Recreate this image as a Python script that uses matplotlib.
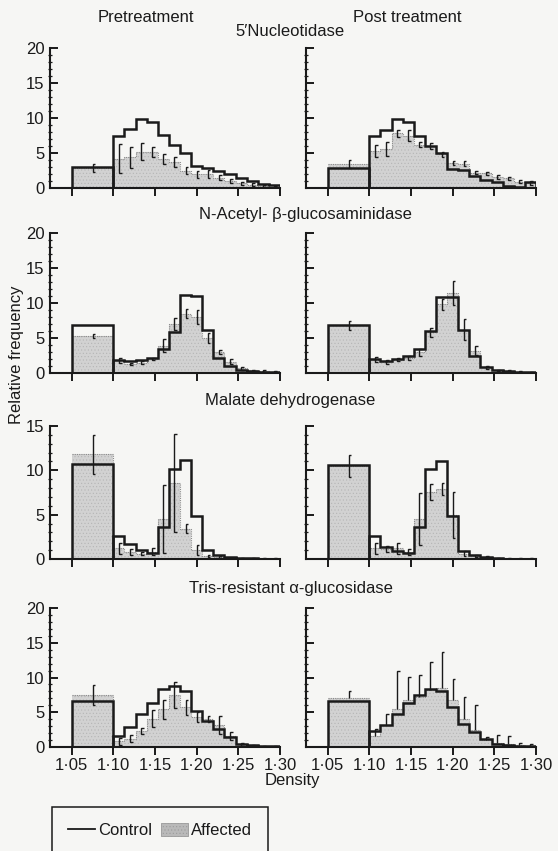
import numpy as np
import matplotlib
matplotlib.use("Agg")
import matplotlib.pyplot as plt
from matplotlib.lines import Line2D
from matplotlib.patches import Patch
from matplotlib.ticker import MultipleLocator, FixedLocator

plt.rcParams['font.family'] = ['Liberation Sans', 'DejaVu Sans']
plt.rcParams['hatch.color'] = '#a9a9a9'
plt.rcParams['hatch.linewidth'] = 0.4

# ---------------- data ----------------
# first bin: 1.05-1.10, then 15 equal bins from 1.10 to 1.30
wide_bin = [1.05, 1.10]
fine_lo, fine_hi, n_fine = 1.10, 1.30, 15

enzymes = ["5\u2032Nucleotidase", "N-Acetyl- \u03b2-glucosaminidase",
           "Malate dehydrogenase", "Tris-resistant \u03b1-glucosidase"]
conditions = ["Pretreatment", "Post treatment"]
y_limits = [20, 20, 15, 20]
x_ticks = [1.05, 1.10, 1.15, 1.20, 1.25, 1.30]
x_tick_labels = ["1\u00b705", "1\u00b710", "1\u00b715", "1\u00b720", "1\u00b725", "1\u00b730"]

nuc_pre_control = [3.0, 7.5, 8.5, 9.8, 9.5, 7.6, 6.1, 5.0, 3.1, 2.9, 2.5, 2.0, 1.4, 1.0, 0.6, 0.4]
nuc_pre_affected = [2.9, 4.2, 4.4, 5.2, 5.1, 4.2, 3.7, 2.5, 2.0, 2.0, 1.5, 1.0, 0.7, 0.5, 0.3, 0.2]
nuc_pre_sd = [0.6, 2.1, 1.5, 1.2, 0.7, 0.7, 0.7, 0.55, 0.5, 0.6, 0.4, 0.3, 0.2, 0.2, 0.1, 0.1]

nuc_post_control = [2.8, 7.5, 8.3, 9.8, 9.4, 7.5, 6.0, 5.0, 2.7, 2.6, 1.7, 1.2, 0.8, 0.3, 0.2, 0.8]
nuc_post_affected = [3.4, 5.3, 5.6, 7.8, 7.5, 6.2, 6.0, 4.8, 3.6, 3.5, 2.2, 2.1, 1.6, 1.4, 0.9, 0.7]
nuc_post_sd = [0.6, 0.8, 1.0, 0.5, 0.8, 0.4, 0.4, 0.3, 0.3, 0.3, 0.25, 0.25, 0.25, 0.2, 0.2, 0.25]

nag_pre_control = [6.85, 1.85, 1.65, 1.85, 2.1, 3.4, 5.9, 11.2, 11.0, 6.1, 2.1, 1.0, 0.4, 0.3, 0.2, 0.15]
nag_pre_affected = [5.3, 1.8, 1.3, 1.5, 2.0, 3.9, 7.0, 8.5, 8.0, 5.0, 3.0, 1.6, 0.7, 0.4, 0.3, 0.2]
nag_pre_sd = [0.3, 0.3, 0.2, 0.2, 0.2, 0.9, 0.8, 0.6, 0.95, 0.75, 0.3, 0.35, 0.2, 0.1, 0.1, 0.1]

nag_post_control = [6.8, 2.05, 1.65, 1.95, 2.4, 3.4, 6.0, 10.9, 10.9, 6.1, 2.4, 0.8, 0.5, 0.3, 0.2, 0.1]
nag_post_affected = [6.8, 1.9, 1.6, 1.9, 2.2, 3.0, 5.8, 9.8, 11.4, 6.2, 3.2, 0.8, 0.4, 0.3, 0.2, 0.1]
nag_post_sd = [0.7, 0.35, 0.25, 0.25, 0.3, 0.5, 0.7, 0.8, 1.7, 1.5, 0.65, 0.2, 0.1, 0.1, 0.1, 0.05]

mdh_pre_control = [10.7, 2.6, 1.7, 1.0, 0.7, 3.6, 10.2, 11.2, 4.9, 1.0, 0.4, 0.2, 0.1, 0.1, 0.05, 0.05]
mdh_pre_affected = [11.8, 1.2, 0.8, 0.6, 0.8, 4.5, 8.6, 3.4, 1.0, 0.3, 0.2, 0.1, 0.05, 0.05, 0.05, 0.05]
mdh_pre_sd = [2.2, 0.6, 0.3, 0.2, 0.4, 3.8, 5.5, 0.5, 0.6, 0.1, 0.1, 0.05, 0.05, 0.05, 0.05, 0.05]

mdh_post_control = [10.6, 2.6, 1.3, 0.9, 0.7, 3.6, 10.2, 11.1, 4.9, 0.9, 0.4, 0.2, 0.1, 0.05, 0.05, 0.05]
mdh_post_affected = [10.5, 1.2, 1.1, 1.2, 0.8, 4.5, 7.6, 7.9, 5.0, 0.6, 0.3, 0.2, 0.1, 0.05, 0.05, 0.05]
mdh_post_sd = [1.2, 0.6, 0.35, 0.6, 0.3, 2.9, 0.9, 0.7, 2.6, 0.3, 0.1, 0.1, 0.05, 0.05, 0.05, 0.05]

tris_pre_control = [6.65, 1.55, 2.9, 4.8, 6.3, 8.4, 8.8, 8.0, 5.2, 3.8, 2.6, 1.4, 0.5, 0.3, 0.2, 0.15]
tris_pre_affected = [7.45, 0.8, 1.2, 2.3, 4.1, 5.4, 7.5, 5.7, 4.3, 4.0, 3.2, 1.6, 0.4, 0.2, 0.1, 0.1]
tris_pre_sd = [1.45, 0.45, 0.5, 0.4, 1.2, 1.3, 1.9, 1.1, 0.7, 0.4, 1.3, 0.6, 0.2, 0.1, 0.1, 0.1]

tris_post_control = [6.6, 2.3, 3.1, 4.75, 6.3, 7.5, 8.4, 8.0, 5.7, 3.3, 2.1, 1.1, 0.4, 0.3, 0.2, 0.1]
tris_post_affected = [7.1, 1.6, 3.2, 5.5, 6.8, 7.2, 8.2, 8.5, 6.8, 4.0, 2.5, 1.0, 0.6, 0.5, 0.3, 0.2]
tris_post_sd = [1.0, 1.0, 1.6, 5.5, 3.3, 3.1, 4.0, 5.2, 3.0, 3.2, 3.5, 0.5, 1.1, 1.1, 0.3, 0.2]

panels = [
    [(nuc_pre_control, nuc_pre_affected, nuc_pre_sd, "both"),
     (nuc_post_control, nuc_post_affected, nuc_post_sd, "both")],
    [(nag_pre_control, nag_pre_affected, nag_pre_sd, "both"),
     (nag_post_control, nag_post_affected, nag_post_sd, "both")],
    [(mdh_pre_control, mdh_pre_affected, mdh_pre_sd, "both"),
     (mdh_post_control, mdh_post_affected, mdh_post_sd, "both")],
    [(tris_pre_control, tris_pre_affected, tris_pre_sd, "both"),
     (tris_post_control, tris_post_affected, tris_post_sd, "up")],
]

# ---------------- layout ----------------
W, H = 558, 851
BG = '#f6f6f4'
INK = '#1a1a1a'
FILL = '#d2d2d2'
fig = plt.figure(figsize=(W / 100, H / 100), dpi=100, facecolor=BG)

def add_ax(left, top, width, height):
    return fig.add_axes([left / W, 1 - (top + height) / H, width / W, height / H])

row_tops = [48, 233, 426, 608]
row_heights = [140, 140, 133, 139]
col_lefts = [50, 306]
ax_width = 230

edges = np.concatenate([wide_bin, np.linspace(fine_lo, fine_hi, n_fine + 1)[1:]])
centers = (edges[:-1] + edges[1:]) / 2
cap = 0.0032

for r in range(4):
    for c in range(2):
        ax = add_ax(col_lefts[c], row_tops[r], ax_width, row_heights[r])
        ax.set_facecolor('none')
        control, affected, sd, style = panels[r][c]
        control = np.asarray(control)
        affected = np.asarray(affected)
        sd = np.asarray(sd)

        # affected (shaded)
        ax.stairs(affected, edges, baseline=0, fill=True, facecolor=FILL,
                  edgecolor='#b5b5b5', hatch='.....', linewidth=0, zorder=1)
        ax.stairs(affected, edges, baseline=None, fill=False, edgecolor='#8c8c8c',
                  linewidth=0.8, linestyle=(0, (1, 1)), zorder=2)

        # control outline: wide first bin as box, then staircase
        ax.stairs(control[:1], edges[:2], baseline=0, fill=False,
                  edgecolor=INK, linewidth=1.8, zorder=3)
        ax.stairs(control[1:], edges[1:], baseline=0, fill=False,
                  edgecolor=INK, linewidth=1.8, zorder=3)

        # error brackets
        for xm, m, s in zip(centers, affected, sd):
            if style == "up":
                xs = [xm + cap, xm, xm]
                ys = [m + s, m + s, m]
            else:
                xs = [xm + cap, xm, xm, xm + cap]
                ys = [m + s, m + s, max(m - s, 0), max(m - s, 0)]
            ax.plot(xs, ys, color=INK, linewidth=1.0, zorder=4,
                    solid_joinstyle='miter', solid_capstyle='butt')

        ax.set_xlim(1.024, 1.30)
        ax.set_ylim(0, y_limits[r])
        for sp in ['top', 'right']:
            ax.spines[sp].set_visible(False)
        for sp in ['left', 'bottom']:
            ax.spines[sp].set_linewidth(1.5)
            ax.spines[sp].set_color(INK)
            ax.spines[sp].set_capstyle('projecting')

        ax.xaxis.set_major_locator(FixedLocator(x_ticks))
        ax.yaxis.set_major_locator(MultipleLocator(5))
        ax.yaxis.set_minor_locator(MultipleLocator(1))
        ax.tick_params(axis='x', which='major', direction='out', length=6,
                       width=1.4, color=INK, pad=2, labelsize=12, labelcolor=INK)
        ax.tick_params(axis='y', which='major', direction='in', length=6,
                       width=1.4, color=INK, pad=4, labelsize=12, labelcolor=INK)
        ax.tick_params(axis='y', which='minor', direction='inout', length=3,
                       width=0.9, color=INK)
        if r == 3:
            ax.set_xticklabels(x_tick_labels)
        else:
            ax.set_xticklabels([])
        if c == 1:
            ax.set_yticklabels([])

# ---------------- text ----------------
fig.text(146 / W, 1 - 18 / H, conditions[0], ha='center', va='center', fontsize=12, color=INK)
fig.text(407 / W, 1 - 18 / H, conditions[1], ha='center', va='center', fontsize=12, color=INK)
title_pos = [(290, 32), (305, 214), (290, 400), (291, 588)]
for name, (tx, ty) in zip(enzymes, title_pos):
    fig.text(tx / W, 1 - ty / H, name, ha='center', va='center', fontsize=12, color=INK)

fig.text(17 / W, 1 - 355 / H, "Relative frequency", rotation=90, ha='center',
         va='center', fontsize=12, color=INK)
fig.text(292 / W, 1 - 781 / H, "Density", ha='center', va='center', fontsize=12, color=INK)

# ---------------- legend ----------------
handles = [Line2D([0], [0], color=INK, linewidth=1.3),
           Patch(facecolor='#b9b9b9', edgecolor='#9a9a9a', hatch='.....', linewidth=0.6)]
leg = fig.legend(handles, ["Control", "Affected"], loc='upper left',
                 bbox_to_anchor=(52 / W, 1 - 807 / H), ncol=2, frameon=True,
                 fancybox=False, framealpha=1, edgecolor=INK, facecolor=BG,
                 fontsize=12, borderpad=0.95, borderaxespad=0, handlelength=1.6,
                 handleheight=0.8, handletextpad=0.2, columnspacing=0.55)
leg.get_frame().set_linewidth(1.1)
for t in leg.get_texts():
    t.set_color(INK)

fig.savefig("out.png", dpi=100, facecolor=BG)
